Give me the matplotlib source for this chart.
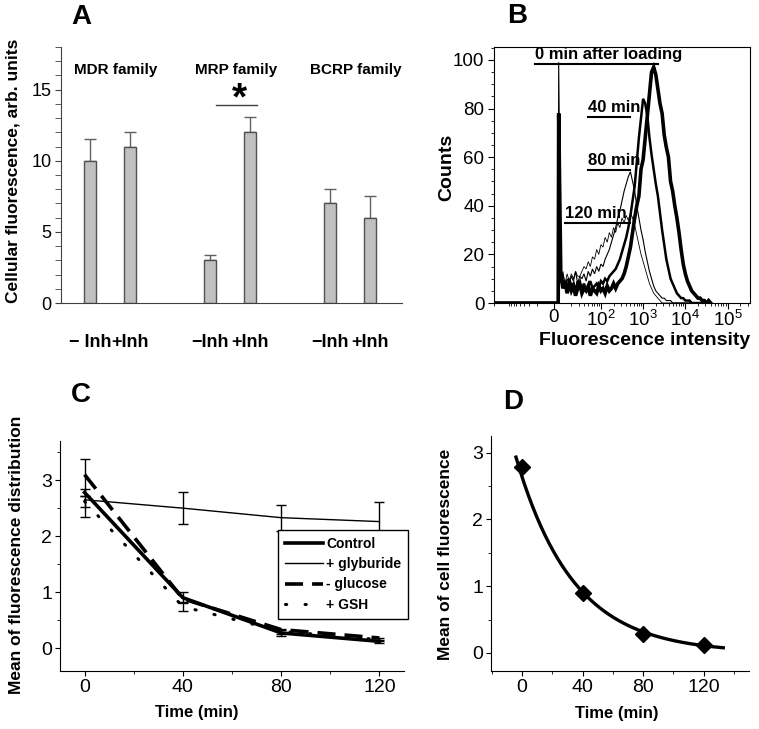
import matplotlib
matplotlib.use("Agg")
import matplotlib.pyplot as plt
import numpy as np
from matplotlib.ticker import MultipleLocator, FixedLocator, NullFormatter

plt.rcParams["font.family"] = ["Liberation Sans", "DejaVu Sans"]
plt.rcParams["mathtext.fontset"] = "custom"
plt.rcParams["mathtext.rm"] = "Liberation Sans"

# =============================================================================
# Data
# =============================================================================
# A: transporter families, -/+ inhibitor
groups = ["MDR family", "MRP family", "BCRP family"]
bar_labels = ["\u2212 Inh", "+Inh", "\u2212Inh", "+Inh", "\u2212Inh", "+Inh"]
bar_values = [10, 11, 3, 12, 7, 6]
bar_errors = [1.5, 1.0, 0.4, 1.1, 1.0, 1.5]

# B: flow cytometry histograms (log10 of intensity for each bin)
hist_log_bins = np.linspace(1.05, 4.6, 72)
hist_labels = ["0 min after loading", "40 min", "80 min", "120 min"]
hist_spike = [78, 40, 99, 25]
counts_0 = [12, 6, 9, 4, 8, 5, 7, 3, 6, 8,
            4, 6, 5, 7, 3, 6, 5, 4, 7, 5,
            6, 4, 7, 5, 6, 8, 6, 8, 9, 10,
            12, 15, 19, 23, 29, 35, 40, 44, 55, 59,
            68, 77, 86, 95, 97, 94, 88, 82, 78, 69,
            64, 60, 50, 46, 40, 35, 29, 22, 16, 12,
            9, 7, 5, 4, 3, 2, 2, 1, 1, 0,
            1, 0]
counts_40 = [10, 7, 9, 6, 10, 7, 8, 5, 9, 7,
             6, 8, 5, 7, 9, 6, 7, 8, 6, 9,
             8, 10, 9, 11, 12, 13, 14, 16, 18, 21,
             24, 27, 31, 36, 42, 48, 58, 68, 76, 84,
             82, 77, 68, 61, 55, 49, 44, 37, 30, 24,
             18, 14, 10, 8, 6, 4, 3, 2, 2, 1,
             1, 1] + [0] * 10
counts_80 = [9, 12, 7, 10, 8, 11, 9, 13, 8, 11,
             10, 12, 9, 13, 11, 14, 12, 15, 13, 16,
             15, 18, 20, 22, 25, 28, 31, 35, 38, 42,
             46, 49, 52, 54, 50, 46, 40, 35, 30, 26,
             21, 17, 13, 10, 7, 5, 4, 3, 2, 2,
             1, 1, 1] + [0] * 19
counts_120 = [10, 13, 8, 12, 9, 12, 10, 13, 11, 11,
              13, 15, 14, 17, 15, 19, 18, 22, 20, 24,
              23, 27, 25, 29, 27, 31, 29, 33, 31, 35,
              33, 36, 34, 37, 35, 32, 28, 24, 20, 17,
              14, 11, 8, 6, 4, 3, 2, 1] + [0] * 24
hist_counts = [counts_0, counts_40, counts_80, counts_120]

# C: mean of fluorescence distribution vs time
time_c = [0, 40, 80, 120]
control = [2.78, 0.90, 0.27, 0.12]
control_err = [0.07, 0.10, 0.05, 0.03]
glyburide = [2.65, 2.50, 2.33, 2.26]
glyburide_err_lo = [0.30, 0.29, 0.23, 0.35]
glyburide_err_hi = [0.72, 0.29, 0.23, 0.35]
glucose = [3.10, 0.88, 0.33, 0.18]
gsh = [2.62, 0.74, 0.30, 0.15]
gsh_err = [0.10, 0.08, 0.04, 0.03]

# D: mean of cell fluorescence vs time
time_d = [0, 40, 80, 120]
cell_mean = [2.78, 0.90, 0.28, 0.12]

W, H = 759, 729
fig = plt.figure(figsize=(W / 100, H / 100), dpi=100)


def px_axes(x0, y0, x1, y1):
    """Axes placed with pixel corners (top-left origin)."""
    return fig.add_axes([x0 / W, 1 - y1 / H, (x1 - x0) / W, (y1 - y0) / H])


def panel_letter(x, y, letter):
    fig.text(x / W, 1 - y / H, letter, fontsize=20, fontweight="bold",
             ha="center", va="center")


# =============================================================================
# A
# =============================================================================
ax_a = px_axes(61, 47, 402, 303)
group_pos = np.arange(len(groups))
bar_pos = np.ravel([[g - 1 / 6, g + 1 / 6] for g in group_pos])
ax_a.errorbar(bar_pos, bar_values, yerr=[np.zeros(len(bar_values)), bar_errors],
              fmt="none", ecolor="#606060", elinewidth=1, capsize=4.5,
              capthick=1, zorder=1)
ax_a.bar(bar_pos, bar_values, width=0.106, color="#c0c0c0",
         edgecolor="#505050", linewidth=1, zorder=2)
ax_a.set_xlim(-0.408, 2.433)
ax_a.set_ylim(0, 18)
for side in ("top", "right"):
    ax_a.spines[side].set_visible(False)
for side in ("left", "bottom"):
    ax_a.spines[side].set_color("#404040")
ax_a.yaxis.set_major_locator(FixedLocator([0, 5, 10, 15]))
ax_a.yaxis.set_minor_locator(MultipleLocator(1))
ax_a.tick_params(axis="y", which="both", direction="out", length=4,
                 color="#404040", labelsize=13, pad=3)
ax_a.set_xticks(bar_pos, bar_labels)
ax_a.tick_params(axis="x", length=0, pad=22, labelsize=13)
for lab in ax_a.get_xticklabels():
    lab.set_fontweight("bold")
for g, name in zip(group_pos, groups):
    ax_a.text(g + 0.05, 16.4, name, ha="center", va="center",
              fontsize=11, fontweight="bold")
ax_a.plot([0.883, 1.225], [13.9, 13.9], color="#404040", lw=1)
ax_a.text(1.083, 14.3, "*", ha="center", va="center", fontsize=28,
          fontweight="bold")
ax_a.set_ylabel("Cellular fluorescence, arb. units", fontsize=12.5,
                fontweight="bold", va="center")
ax_a.yaxis.set_label_coords(-0.141, 0.515)
panel_letter(81, 17, "A")

# =============================================================================
# B
# =============================================================================
ax_b = px_axes(494, 47, 750, 303)
ax_b.set_xscale("symlog", linthresh=10, linscale=0.1)
x_left, x_right = -204, 3.4e5
widths = [2.6, 1.8, 0.8, 0.6]
for counts, spike, lw in zip(hist_counts, hist_spike, widths):
    x = np.concatenate([[x_left, 9, 10], 10 ** hist_log_bins])
    y = np.concatenate([[0, 0, spike], counts])
    ax_b.plot(x, y, color="black", lw=lw, solid_joinstyle="miter")
ax_b.set_xlim(x_left, x_right)
ax_b.set_ylim(0, 105.3)
ax_b.set_xticks([0, 1e2, 1e3, 1e4, 1e5],
                ["0", "$10^2$", "$10^3$", "$10^4$", "$10^5$"])
minor_x = [-k * 10 ** d for d in (1, 2) for k in range(2, 10)]
minor_x += [k * 10 ** d for d in (1, 2, 3, 4, 5) for k in range(2, 10)]
ax_b.xaxis.set_minor_locator(FixedLocator(minor_x))
ax_b.xaxis.set_minor_formatter(NullFormatter())
ax_b.yaxis.set_major_locator(MultipleLocator(20))
ax_b.yaxis.set_minor_locator(MultipleLocator(5))
ax_b.tick_params(which="both", direction="out", labelsize=13.5, pad=3)
ax_b.tick_params(axis="x", which="both", pad=0.5)
ax_b.tick_params(which="major", length=4)
ax_b.tick_params(which="minor", length=2.5)
ax_b.set_ylabel("Counts", fontsize=14, fontweight="bold", va="center")
ax_b.yaxis.set_label_coords(-0.185, 0.53)
ax_b.set_xlabel("Fluorescence intensity", fontsize=14, fontweight="bold",
                va="center")
ax_b.xaxis.set_label_coords(0.59, -0.148)

# curve labels, underlined towards the curve
label_spots = [(0.16, 0.934, 0.64), (0.367, 0.727, 0.531),
               (0.367, 0.52, 0.531), (0.277, 0.3125, 0.531)]
for text, (x0, y0, x1) in zip(hist_labels, label_spots):
    ax_b.text(x0, y0 + 0.006, text, transform=ax_b.transAxes, ha="left",
              va="bottom", fontsize=12, fontweight="bold")
    ax_b.plot([x0, x1], [y0, y0], transform=ax_b.transAxes, color="black",
              lw=1.5)
panel_letter(517, 16, "B")

# =============================================================================
# C
# =============================================================================
ax_c = px_axes(60, 441, 404, 671)
ax_c.plot(time_c, control, color="black", lw=2.6, label="Control")
ax_c.plot(time_c, glyburide, color="black", lw=1.0, label="+ glyburide")
ax_c.plot(time_c, glucose, color="black", lw=2.6, dashes=(5, 2.5),
          label="- glucose")
ax_c.plot(time_c, gsh, color="black", lw=2.2, linestyle=(0, (0.4, 6)),
          dash_capstyle="round", label="+ GSH")
err_kw = dict(fmt="none", ecolor="black", elinewidth=1, capsize=3.5,
              capthick=1)
ax_c.errorbar(time_c, control, yerr=control_err, **err_kw)
ax_c.errorbar(time_c, glyburide, yerr=[glyburide_err_lo, glyburide_err_hi],
              **err_kw)
ax_c.errorbar(time_c, gsh, yerr=gsh_err, **err_kw)
ax_c.set_xlim(-10, 130)
ax_c.set_ylim(-0.41, 3.7)
for side in ("top", "right"):
    ax_c.spines[side].set_visible(False)
ax_c.xaxis.set_major_locator(FixedLocator([0, 40, 80, 120]))
ax_c.xaxis.set_minor_locator(MultipleLocator(20))
ax_c.yaxis.set_major_locator(FixedLocator([0, 1, 2, 3]))
ax_c.yaxis.set_minor_locator(MultipleLocator(0.5))
ax_c.tick_params(which="both", direction="out", labelsize=14, pad=2)
ax_c.tick_params(which="major", length=3.5)
ax_c.tick_params(which="minor", length=2)
leg = ax_c.legend(loc="upper left", bbox_to_anchor=(0.634, 0.613),
                  borderaxespad=0, fancybox=False, edgecolor="black",
                  framealpha=1, handlelength=2.7, labelspacing=0.45,
                  borderpad=0.5, handletextpad=0.25,
                  prop={"weight": "bold", "size": 10})
leg.get_frame().set_linewidth(1)
leg.set_zorder(5)
ax_c.set_ylabel("Mean of fluorescence distribution", fontsize=12.5,
                fontweight="bold", va="center")
ax_c.yaxis.set_label_coords(-0.126, 0.505)
ax_c.set_xlabel("Time (min)", fontsize=12, fontweight="bold", va="center")
ax_c.xaxis.set_label_coords(0.398, -0.181)
panel_letter(81, 395, "C")

# =============================================================================
# D
# =============================================================================
ax_d = px_axes(491, 436, 749, 671)
slope, intercept = np.polyfit(time_d, np.log(cell_mean), 1)
t_fit = np.linspace(-4, 133, 200)
ax_d.plot(t_fit, np.exp(intercept + slope * t_fit), color="black", lw=2.4)
ax_d.plot(time_d, cell_mean, linestyle="none", marker="D", markersize=8,
          color="black")
ax_d.set_xlim(-20.5, 150)
ax_d.set_ylim(-0.27, 3.25)
for side in ("top", "right"):
    ax_d.spines[side].set_visible(False)
ax_d.xaxis.set_major_locator(FixedLocator([0, 40, 80, 120]))
ax_d.xaxis.set_minor_locator(MultipleLocator(20))
ax_d.yaxis.set_major_locator(FixedLocator([0, 1, 2, 3]))
ax_d.yaxis.set_minor_locator(MultipleLocator(0.5))
ax_d.tick_params(which="both", direction="out", labelsize=14, pad=2)
ax_d.tick_params(which="major", length=3.5)
ax_d.tick_params(which="minor", length=2)
ax_d.set_ylabel("Mean of cell fluorescence", fontsize=12.5,
                fontweight="bold", va="center")
ax_d.yaxis.set_label_coords(-0.178, 0.498)
ax_d.set_xlabel("Time (min)", fontsize=12, fontweight="bold", va="center")
ax_d.xaxis.set_label_coords(0.488, -0.179)
panel_letter(513, 402, "D")

fig.savefig("out.png", dpi=100)
